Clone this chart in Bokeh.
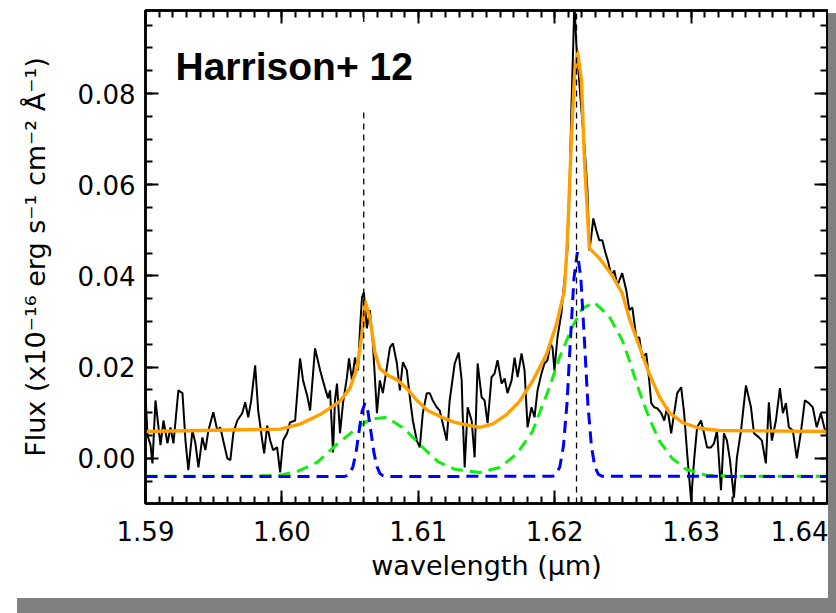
from bokeh.plotting import figure
from bokeh.models import Range1d, LinearAxis, SingleIntervalTicker, PrintfTickFormatter, Label
from bokeh.embed import file_html
from bokeh.resources import INLINE

# ---- observed spectrum (wavelength in micron, flux in 1e-16 erg/s/cm2/A) ----
wl = [
    1.59000, 1.59015, 1.59037, 1.59051, 1.59073, 1.59110, 1.59132, 1.59161, 1.59183, 1.59205,
    1.59241, 1.59271, 1.59293, 1.59314, 1.59344, 1.59366, 1.59388, 1.59417, 1.59439, 1.59461,
    1.59497, 1.59527, 1.59548, 1.59570, 1.59600, 1.59622, 1.59644, 1.59673, 1.59709, 1.59731,
    1.59753, 1.59775, 1.59804, 1.59826, 1.59856, 1.59870, 1.59892, 1.59914, 1.59936, 1.59965,
    1.59987, 1.60009, 1.60038, 1.60060, 1.60097, 1.60133, 1.60155, 1.60185, 1.60207, 1.60243,
    1.60280, 1.60316, 1.60338, 1.60353, 1.60375, 1.60389, 1.60404, 1.60426, 1.60448, 1.60477,
    1.60492, 1.60514, 1.60536, 1.60558, 1.60572, 1.60587, 1.60601, 1.60623, 1.60645, 1.60667,
    1.60697, 1.60718, 1.60740, 1.60770, 1.60792, 1.60814, 1.60843, 1.60865, 1.60887, 1.60916,
    1.60938, 1.60960, 1.60989, 1.61011, 1.61033, 1.61062, 1.61084, 1.61106, 1.61135, 1.61157,
    1.61179, 1.61208, 1.61230, 1.61267, 1.61296, 1.61318, 1.61325, 1.61340, 1.61362, 1.61391,
    1.61413, 1.61435, 1.61464, 1.61486, 1.61508, 1.61537, 1.61559, 1.61581, 1.61611, 1.61633,
    1.61654, 1.61684, 1.61706, 1.61728, 1.61757, 1.61779, 1.61801, 1.61830, 1.61852, 1.61874,
    1.61903, 1.61925, 1.61947, 1.61969, 1.61984, 1.61998, 1.62020, 1.62049, 1.62071, 1.62093,
    1.62108, 1.62122, 1.62137, 1.62144, 1.62159, 1.62174, 1.62196, 1.62218, 1.62240, 1.62254,
    1.62269, 1.62283, 1.62305, 1.62327, 1.62349, 1.62371, 1.62393, 1.62415, 1.62437, 1.62459,
    1.62474, 1.62495, 1.62525, 1.62547, 1.62569, 1.62598, 1.62620, 1.62642, 1.62671, 1.62693,
    1.62708, 1.62729, 1.62751, 1.62781, 1.62803, 1.62825, 1.62854, 1.62876, 1.62898, 1.62927,
    1.62949, 1.62971, 1.63000, 1.63022, 1.63044, 1.63073, 1.63095, 1.63117, 1.63146, 1.63168,
    1.63190, 1.63219, 1.63241, 1.63263, 1.63285, 1.63314, 1.63336, 1.63366, 1.63402, 1.63439,
    1.63461, 1.63497, 1.63519, 1.63548, 1.63570, 1.63592, 1.63622, 1.63651, 1.63673, 1.63695,
    1.63717, 1.63746, 1.63775, 1.63804, 1.63834, 1.63863, 1.63892, 1.63921, 1.63951, 1.63987,
]
flux = [
    0.0138, 0.0050, 0.0029, -0.0011, 0.0127, 0.0029, 0.0083, 0.0033, 0.0068, 0.0033,
    0.0149, 0.0143, 0.0039, -0.0026, 0.0061, 0.0033, -0.0020, 0.0046, 0.0018, 0.0061,
    0.0101, 0.0061, 0.0068, 0.0039, 0.0000, -0.0004, 0.0055, 0.0083, 0.0099, 0.0123,
    0.0090, 0.0127, 0.0204, 0.0105, 0.0039, 0.0011, 0.0072, 0.0039, 0.0018, 0.0024,
    -0.0031, 0.0039, 0.0055, 0.0079, 0.0083, 0.0219, 0.0171, 0.0138, 0.0105, 0.0241,
    0.0193, 0.0154, 0.0132, 0.0149, 0.0013, 0.0127, 0.0164, 0.0055, 0.0121, 0.0178,
    0.0219, 0.0171, 0.0221, 0.0193, 0.0281, 0.0353, 0.0364, 0.0285, 0.0325, 0.0252,
    0.0099, 0.0171, 0.0143, 0.0200, 0.0243, 0.0252, 0.0208, 0.0149, 0.0211, 0.0193,
    0.0134, 0.0083, 0.0039, 0.0024, 0.0099, 0.0143, 0.0143, 0.0127, 0.0112, 0.0105,
    0.0077, 0.0039, 0.0127, 0.0208, 0.0232, 0.0171, 0.0099, -0.0020, 0.0112, 0.0083,
    0.0002, 0.0208, 0.0134, 0.0127, 0.0077, 0.0178, 0.0186, 0.0215, 0.0164, 0.0175,
    0.0143, 0.0171, 0.0221, 0.0178, 0.0230, 0.0193, 0.0068, 0.0112, 0.0090, 0.0149,
    0.0186, 0.0208, 0.0215, 0.0252, 0.0243, 0.0193, 0.0265, 0.0318, 0.0390, 0.0456,
    0.0588, 0.0763, 0.0917, 0.1000, 0.0906, 0.0851, 0.0763, 0.0686, 0.0588, 0.0456,
    0.0489, 0.0526, 0.0500, 0.0478, 0.0478, 0.0452, 0.0430, 0.0401, 0.0412, 0.0379,
    0.0390, 0.0406, 0.0368, 0.0325, 0.0331, 0.0265, 0.0265, 0.0221, 0.0230, 0.0171,
    0.0121, 0.0112, 0.0110, 0.0099, 0.0083, 0.0112, 0.0055, 0.0099, 0.0143, 0.0156,
    0.0099, 0.0011, -0.0092, -0.0004, 0.0068, 0.0083, 0.0055, 0.0024, 0.0024, 0.0033,
    0.0061, -0.0070, 0.0055, 0.0039, -0.0004, -0.0086, 0.0002, 0.0061, 0.0160, 0.0112,
    0.0055, 0.0046, 0.0039, -0.0011, 0.0123, 0.0039, 0.0083, 0.0154, 0.0099, 0.0121,
    0.0068, 0.0061, 0.0000, 0.0055, 0.0127, 0.0121, 0.0112, 0.0068, 0.0099, 0.0055,
]

# ---- total fit (orange) ----
fit_wl = [1.5900, 1.59987, 1.60133, 1.60280, 1.60426, 1.60499, 1.60550, 1.60587, 1.60609, 1.60645,
          1.60682, 1.60718, 1.60777, 1.60850, 1.60923, 1.60996, 1.61069, 1.61172, 1.61267, 1.61377,
          1.61450, 1.61545, 1.61647, 1.61742, 1.61837, 1.61940, 1.62013, 1.62071, 1.62093, 1.62122,
          1.62144, 1.62166, 1.62196, 1.62218, 1.62254, 1.62327, 1.62422, 1.62495, 1.62547, 1.62620,
          1.62693, 1.62766, 1.62839, 1.62934, 1.63058, 1.63205, 1.6400]
fit_flux = [0.0059, 0.0064, 0.0075, 0.0096, 0.0125, 0.0154, 0.0197, 0.0272, 0.0346, 0.0309,
            0.0232, 0.0197, 0.0182, 0.0171, 0.0151, 0.0125, 0.0105, 0.0090, 0.0079, 0.0072,
            0.0068, 0.0075, 0.0096, 0.0125, 0.0169, 0.0228, 0.0294, 0.0368, 0.0478, 0.0697,
            0.0833, 0.0895, 0.0829, 0.0654, 0.0461, 0.0439, 0.0401, 0.0362, 0.0307, 0.0246,
            0.0186, 0.0136, 0.0101, 0.0079, 0.0066, 0.0061, 0.0059]

# ---- broad components (green) ----
broad_wl = [1.5900, 1.59768, 1.59987, 1.60111, 1.60258, 1.60404, 1.60550, 1.60645, 1.60770, 1.60901,
            1.61026, 1.61143, 1.61267, 1.61450, 1.61596, 1.61720, 1.61837, 1.61962, 1.62035, 1.62130,
            1.62203, 1.62291, 1.62400, 1.62495, 1.62547, 1.62620, 1.62693, 1.62766, 1.62861, 1.62963,
            1.63110, 1.63278, 1.6400]
broad_flux = [-0.0039, -0.0039, -0.0037, -0.0029, -0.0009, 0.0031, 0.0066, 0.0086, 0.0090, 0.0064,
              0.0026, -0.0007, -0.0024, -0.0031, -0.0020, 0.0009, 0.0059, 0.0156, 0.0221, 0.0289,
              0.0329, 0.0342, 0.0311, 0.0259, 0.0215, 0.0147, 0.0088, 0.0039, 0.0000, -0.0024,
              -0.0037, -0.0039, -0.0039]

# ---- narrow components (blue) ----
narrow_wl = [1.5900, 1.60455, 1.60477, 1.60499, 1.60521, 1.60543, 1.60565, 1.60587, 1.60609, 1.60631,
             1.60653, 1.60675, 1.60697, 1.60718, 1.60740, 1.60762, 1.61987, 1.62013, 1.62038, 1.62064,
             1.62090, 1.62115, 1.62141, 1.62166, 1.62192, 1.62218, 1.62243, 1.62269, 1.62294, 1.62320,
             1.62346, 1.6400]
narrow_flux = [-0.0040, -0.0040, -0.0038, -0.0033, -0.0018, 0.0012, 0.0058, 0.0102, 0.0121, 0.0102,
               0.0058, 0.0012, -0.0018, -0.0033, -0.0038, -0.0040, -0.0039, -0.0035, -0.0018, 0.0027,
               0.0120, 0.0258, 0.0394, 0.0452, 0.0394, 0.0258, 0.0120, 0.0027, -0.0018, -0.0035,
               -0.0039, -0.0040]

# ---- line-centre markers (vertical dashed lines; first one interrupted by the title box) ----
vline_x = [1.6060, 1.6060, 1.6216]
vline_y0 = [-0.0099, 0.0957, -0.0099]
vline_y1 = [0.0768, 0.0982, 0.0982]

title_text = "Harrison+ 12"
x_label = "wavelength (μm)"
y_label = "Flux (x10⁻¹⁶ erg s⁻¹ cm⁻² Å⁻¹)"

TICK_FONT = "DejaVu Sans"

p = figure(width=828, height=598, x_range=Range1d(1.59, 1.6400001), y_range=Range1d(-0.0099, 0.0982),
           output_backend="svg", toolbar_location=None,
           min_border_left=145, min_border_right=1, min_border_top=10, min_border_bottom=95)
p.background_fill_color = "white"
p.border_fill_color = "white"
p.outline_line_color = "black"
p.outline_line_width = 2.5
p.grid.visible = False
p.styles = {"box-shadow": "18px 14px 0px 1px #808080"}


def style_axis(ax, show_labels):
    ax.axis_line_width = 2.5
    ax.axis_line_color = "black"
    ax.major_tick_in = 13
    ax.major_tick_out = 0
    ax.minor_tick_in = 7
    ax.minor_tick_out = 0
    ax.major_tick_line_width = 2
    ax.minor_tick_line_width = 2
    ax.major_tick_line_color = "black"
    ax.minor_tick_line_color = "black"
    if show_labels:
        ax.major_label_text_font = TICK_FONT
        ax.major_label_text_font_size = "26px"
        ax.major_label_text_color = "black"
        ax.axis_label_text_font = TICK_FONT
        ax.axis_label_text_font_size = "27px"
        ax.axis_label_text_font_style = "normal"
        ax.axis_label_text_color = "black"
    else:
        ax.major_label_text_font_size = "1px"
        ax.major_label_text_color = None
        ax.major_label_standoff = 0


xt = SingleIntervalTicker(interval=0.01, num_minor_ticks=10)
yt = SingleIntervalTicker(interval=0.02, num_minor_ticks=4)

xa = p.xaxis[0]
xa.ticker = xt
xa.formatter = PrintfTickFormatter(format="%.2f")
xa.axis_label = x_label
style_axis(xa, True)
xa.major_label_standoff = 17
xa.axis_label_standoff = 6

ya = p.yaxis[0]
ya.ticker = yt
ya.formatter = PrintfTickFormatter(format="%.2f")
ya.axis_label = y_label
style_axis(ya, True)
ya.major_label_standoff = 10
ya.axis_label_standoff = 24

top_ax = LinearAxis(ticker=SingleIntervalTicker(interval=0.01, num_minor_ticks=10))
style_axis(top_ax, False)
p.add_layout(top_ax, "above")
right_ax = LinearAxis(ticker=SingleIntervalTicker(interval=0.02, num_minor_ticks=4))
style_axis(right_ax, False)
p.add_layout(right_ax, "right")

# data
p.line(wl, flux, line_color="black", line_width=2)
p.line(broad_wl, broad_flux, line_color="#10EE10", line_width=3, line_dash="12 7")
p.line(narrow_wl, narrow_flux, line_color="#0000FF", line_width=3, line_dash="12 7")
p.line(fit_wl, fit_flux, line_color="#FFA000", line_width=3.4)
p.segment(x0=vline_x, y0=vline_y0, x1=vline_x, y1=vline_y1, line_color="black",
          line_width=1.3, line_dash="6 5")

p.add_layout(Label(x=1.5922, y=0.0859, text=title_text, text_font="Liberation Sans",
                   text_font_style="bold", text_font_size="39px", text_color="black",
                   text_baseline="alphabetic"))

open("out.html", "w").write(file_html(p, INLINE))
